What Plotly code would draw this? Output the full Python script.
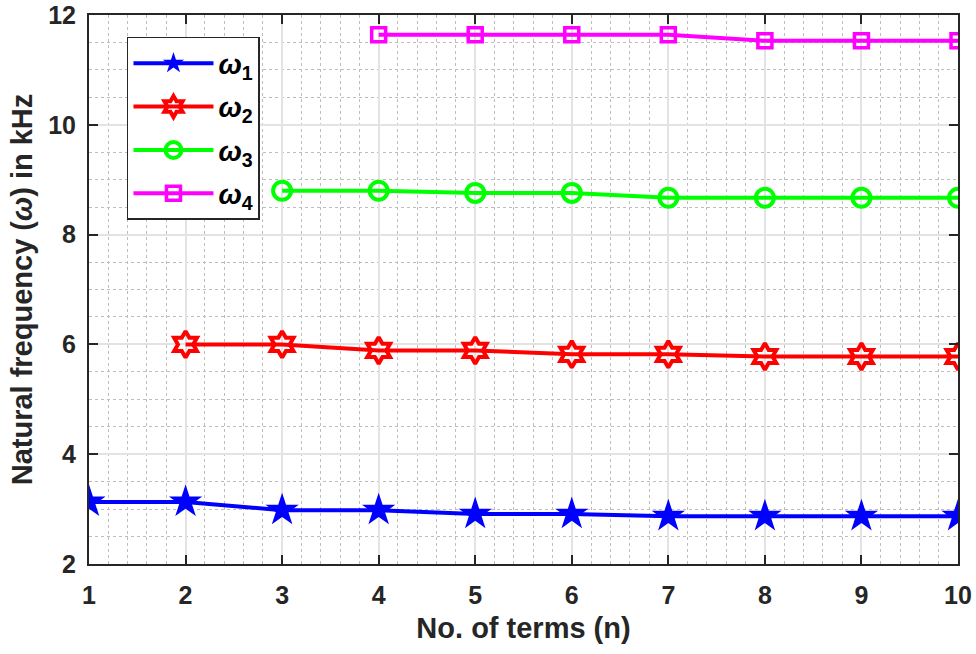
import plotly.graph_objects as go

n_terms = [1, 2, 3, 4, 5, 6, 7, 8, 9, 10]
w1 = [3.13, 3.13, 2.98, 2.98, 2.91, 2.91, 2.87, 2.87, 2.87, 2.87]
w2 = [None, 6.00, 6.00, 5.89, 5.89, 5.82, 5.82, 5.78, 5.78, 5.78]
w3 = [None, None, 8.80, 8.80, 8.76, 8.76, 8.67, 8.67, 8.67, 8.67]
w4 = [None, None, None, 11.64, 11.64, 11.64, 11.64, 11.53, 11.53, 11.53]
names = ["<i>ω</i><sub>1</sub>", "<i>ω</i><sub>2</sub>", "<i>ω</i><sub>3</sub>", "<i>ω</i><sub>4</sub>"]

styles = [
    dict(color="#0000FF", symbol="star", size=25, lw=0),
    dict(color="#FF0000", symbol="hexagram-open", size=20, lw=4),
    dict(color="#00FF00", symbol="circle-open", size=18, lw=4),
    dict(color="#FF00FF", symbol="square-open", size=14, lw=3.5),
]

fig = go.Figure()
for i, (vals, nm, st) in enumerate(zip([w1, w2, w3, w4], names, styles)):
    fig.add_trace(go.Scatter(
        x=n_terms, y=vals, name=nm, mode="lines+markers",
        line=dict(color=st["color"], width=4),
        marker=dict(symbol=st["symbol"], size=st["size"], color=st["color"],
                    line=dict(color=st["color"], width=st["lw"])),
        legendgroup=f"g{i}", connectgaps=False,
    ))

FAM = "Liberation Sans, Arial, sans-serif"
axis_font = dict(family=FAM, size=25, color="#262626", weight="bold")
title_font = dict(family=FAM, size=29, color="#262626", weight="bold")

fig.update_layout(
    width=976, height=654,
    margin=dict(l=89, r=18, t=15, b=90, autoexpand=False),
    paper_bgcolor="white", plot_bgcolor="white",
    font=dict(family=FAM, color="#262626"),
    showlegend=True,
    legend=dict(
        x=0.0437, y=0.96, xanchor="left", yanchor="top",
        bgcolor="white", bordercolor="#262626", borderwidth=1.5,
        font=dict(family=FAM, size=28, color="black", weight="bold"),
        itemwidth=80, tracegroupgap=4,
    ),
)

fig.update_xaxes(
    range=[1, 10], dtick=1, tick0=1, automargin=False,
    showline=True, linecolor="#262626", linewidth=2, mirror="ticks",
    ticks="inside", ticklen=9, tickwidth=2, tickcolor="#262626",
    showgrid=True, gridcolor="#e3e3e3", gridwidth=1.5,
    minor=dict(dtick=0.2, showgrid=True, gridcolor="#bdbdbd", griddash="dot", gridwidth=1, ticks=""),
    zeroline=False,
    tickfont=axis_font, ticklabelstandoff=8,
    title=dict(text="No. of terms (n)", font=title_font, standoff=10),
)
fig.update_yaxes(
    range=[2, 12], dtick=2, tick0=2, automargin=False,
    showline=True, linecolor="#262626", linewidth=2, mirror="ticks",
    ticks="inside", ticklen=9, tickwidth=2, tickcolor="#262626",
    showgrid=True, gridcolor="#e3e3e3", gridwidth=1.5,
    minor=dict(dtick=0.5, showgrid=True, gridcolor="#bdbdbd", griddash="dot", gridwidth=1, ticks=""),
    zeroline=False,
    tickfont=axis_font, ticklabelstandoff=6,
    title=dict(text="Natural frequency (<i>ω</i>) in kHz", font=title_font, standoff=7),
)

fig.write_html("out.html", config={"displayModeBar": False},
               post_script="document.body.style.margin='0';")
